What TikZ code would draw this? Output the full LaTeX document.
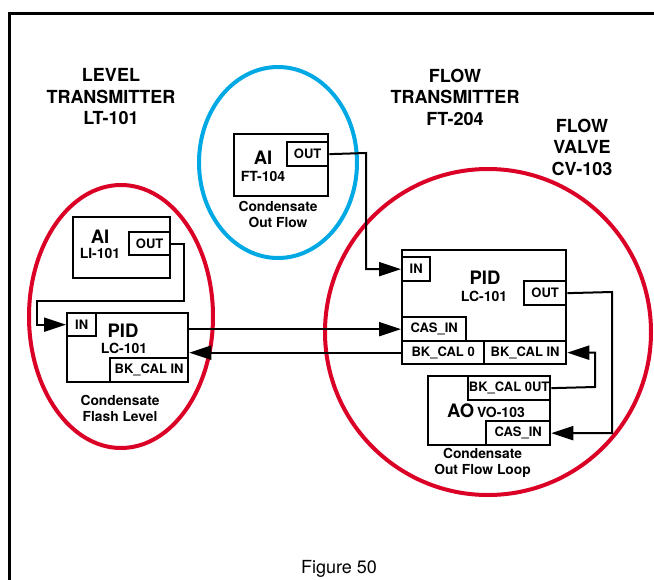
\documentclass[tikz,border=0pt]{standalone}
\usepackage{fontspec}
\setmainfont{TeX Gyre Heros}
\usetikzlibrary{arrows.meta}
\definecolor{ringred}{RGB}{218,0,38}
\definecolor{ringblue}{RGB}{0,168,228}
\begin{document}
\begin{tikzpicture}[x=1pt,y=-1pt,
  blk/.style={draw, line width=2.3pt, rectangle, inner sep=0pt, anchor=north west,
    font=\bfseries\fontsize{13}{15}\selectfont},
  conn/.style={line width=2pt, -{Triangle[length=22pt,width=14pt]}},
  ringline/.style={line width=4pt},
  ttl/.style={align=center, inner sep=0pt, font=\bfseries\fontsize{18}{21.5}\selectfont},
  captxt/.style={align=center, inner sep=0pt, font=\bfseries\fontsize{13.8}{16}\selectfont},
  bigtxt/.style={inner sep=0pt, font=\bfseries\fontsize{18.5}{20}\selectfont},
  smalltxt/.style={inner sep=0pt, font=\bfseries\fontsize{14}{15}\selectfont}]
\useasboundingbox (0,0) rectangle (654,579);
% frame
\draw[line width=3pt] (670,13.3) -- (9.5,13.3) -- (9.5,600);
% rings
\draw[ringred, ringline] (121,316.5) ellipse [x radius=92, y radius=131.5];
\draw[ringblue, ringline] (278,162.5) ellipse [x radius=79, y radius=95.5];
\draw[ringred, ringline] (488,332) ellipse [x radius=163, y radius=163];
% titles
\node[ttl] (t1) at (111,97) {LEVEL\\TRANSMITTER\\LT-101};
\node[ttl] (t2) at (455,97) {FLOW\\TRANSMITTER\\FT-204};
\node[ttl] (t3) at (582,147) {FLOW\\VALVE\\CV-103};
% left AI
\node[blk, minimum width=97pt, minimum height=61pt] (lai) at (72,216) {};
\node[blk, minimum width=41pt, minimum height=23pt] (liout) at (128,231) {OUT};
\node[bigtxt] (laitxt) at (100,237) {AI};
\node[smalltxt] (laisub) at (100,253) {LI-101};
% left PID
\node[blk, minimum width=121pt, minimum height=69pt] (lpid) at (66,312) {};
\node[blk, minimum width=29pt, minimum height=23pt] (lin) at (66,312) {IN};
\node[blk, minimum width=78pt, minimum height=24pt] (lbkin) at (109,357) {BK\_CAL IN};
\node[bigtxt] (lpidtxt) at (123,331) {PID};
\node[smalltxt] (lpidsub) at (124,348) {LC-101};
\node[captxt] (lcap) at (120,408.7) {Condensate\\Flash Level};
% blue AI
\node[blk, minimum width=94pt, minimum height=62pt] (fai) at (233,133) {};
\node[blk, minimum width=41pt, minimum height=24pt] (ftout) at (286,141) {OUT};
\node[bigtxt] (faitxt) at (263,158) {AI};
\node[smalltxt] (faisub) at (263,176) {FT-104};
\node[captxt] (fcap) at (278,214.7) {Condensate\\Out Flow};
% right PID
\node[blk, minimum width=164pt, minimum height=114pt] (rpid) at (401,249) {};
\node[blk, minimum width=28pt, minimum height=24pt] (rin) at (401,256) {IN};
\node[blk, minimum width=42pt, minimum height=24pt] (rout) at (523,280) {OUT};
\node[blk, minimum width=64pt, minimum height=24pt] (casin) at (401,316) {CAS\_IN};
\node[blk, minimum width=82pt, minimum height=23pt] (bk0) at (401,340) {BK\_CAL 0};
\node[blk, minimum width=82pt, minimum height=23pt] (bkin) at (483,340) {BK\_CAL IN};
\node[bigtxt] (rpidtxt) at (485,278) {PID};
\node[smalltxt] (rpidsub) at (484,296) {LC-101};
% AO
\node[blk, minimum width=122pt, minimum height=69pt] (ao) at (427,375) {};
\node[blk, minimum width=82pt, minimum height=24pt] (bkout) at (467,375) {BK\_CAL 0UT};
\node[blk, minimum width=64pt, minimum height=24pt] (aocas) at (485,420) {CAS\_IN};
\node[inner sep=0pt] (aotxt) at (486,411) {{\bfseries\fontsize{18.5}{20}\selectfont AO} {\bfseries\fontsize{14}{16}\selectfont VO-103}};
\node[captxt] (rcap) at (482.5,463.3) {Condensate\\Out Flow Loop};
% connectors
\draw[conn] (liout.east) -| (184,301) -- (37,301) |- (lin.west);
\draw[conn] (ftout.east) -- (366,153) |- (rin.west);
\draw[conn] (casin.west -| lpid.east) -- (casin.west);
\draw[conn] (bk0.west) -- (bk0.west -| lpid.east);
\draw[conn] (rout.east) -- (612,292) |- (aocas.east);
\draw[conn] (bkout.east) -- (595,387) |- (bkin.east);
% caption
\node[inner sep=0pt, font=\fontsize{18}{21}\selectfont] (fig) at (339,569) {Figure 50};
\end{tikzpicture}
\end{document}
